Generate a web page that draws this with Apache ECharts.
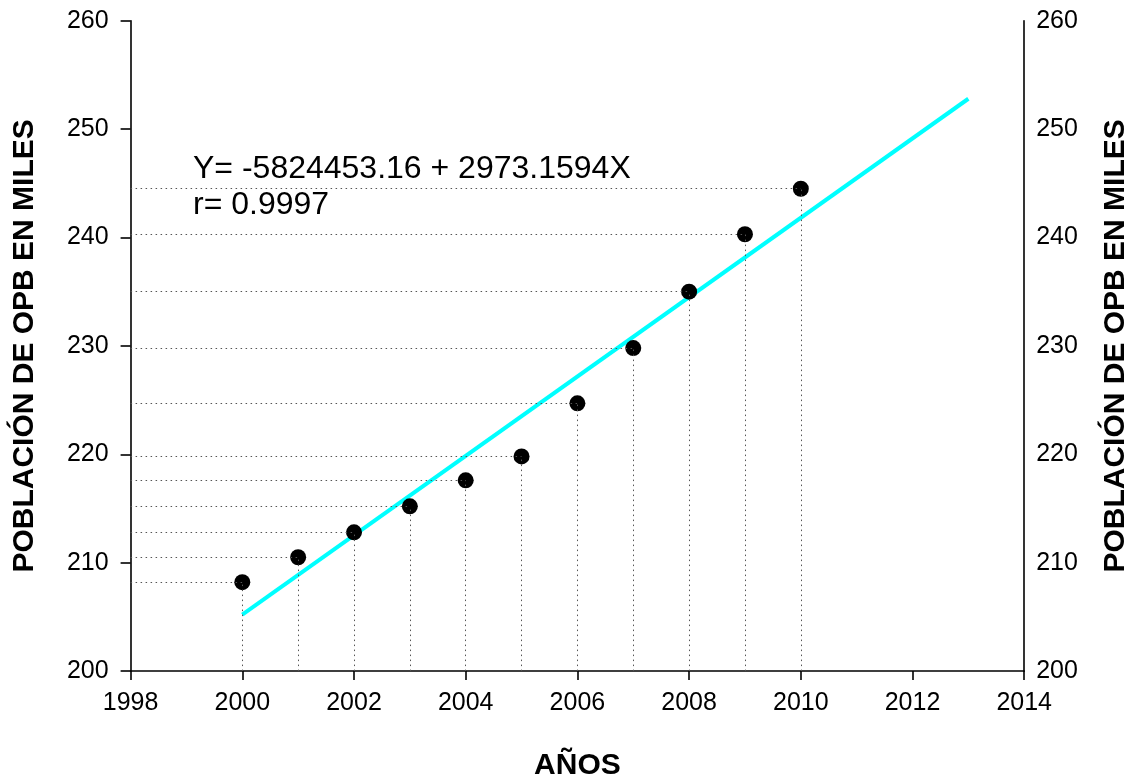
<!DOCTYPE html>
<html>
<head>
<meta charset="utf-8">
<title>Población de OPB en miles</title>
<script src="https://cdn.jsdelivr.net/npm/echarts@6/dist/echarts.min.js"></script>
<style>
  html, body { margin: 0; padding: 0; background: #ffffff; }
  #chart { width: 1135px; height: 776px; }
</style>
</head>
<body>
<div id="chart"></div>
<script>
// Observed population (thousands) per year
const years = [2000, 2001, 2002, 2003, 2004, 2005, 2006, 2007, 2008, 2009, 2010];
const population = [208.2, 210.5, 212.8, 215.2, 217.6, 219.8, 224.7, 229.8, 235.0, 240.3, 244.5];

// Fitted trend line, drawn between its two end years
const trendYears = [2000, 2013];
const trendValues = [205.2, 252.8];

// Axis ranges and tick steps
const xRange = [1998, 2014];
const xStep = 2;
const yRange = [200, 260];
const yStep = 10;

const equationText = 'Y= -5824453.16 + 2973.1594X';
const rText = 'r= 0.9997';
const xTitle = 'AÑOS';
const yTitle = 'POBLACIÓN DE OPB EN MILES';

const FONT = '"Liberation Sans", Arial, sans-serif';

const points = years.map((y, i) => [y, population[i]]);
const trend = trendYears.map((y, i) => [y, trendValues[i]]);

// Dotted guide lines: from each point down to the x axis and across to the y axis
const guides = [];
points.forEach(([x, v]) => {
  guides.push([{ coord: [x, yRange[0]] }, { coord: [x, v] }]);
  guides.push([{ coord: [xRange[0], v] }, { coord: [x, v] }]);
});

const chart = echarts.init(document.getElementById('chart'), null, { renderer: 'canvas' });

const labelStyle = { color: '#000', fontFamily: FONT, fontSize: 25 };
const titleStyle = { color: '#000', fontFamily: FONT, fontSize: 30, fontWeight: 'bold' };
const plain = v => String(v);

chart.setOption({
  animation: false,
  backgroundColor: '#ffffff',
  grid: {
    left: 130.6, right: 110.8, top: 20.7, bottom: 104.9,
    containLabel: false,
    outerBoundsMode: 'none'
  },
  xAxis: {
    type: 'value',
    min: xRange[0], max: xRange[1], interval: xStep,
    name: xTitle,
    nameLocation: 'middle',
    nameGap: 80,
    nameTextStyle: titleStyle,
    axisLine: { show: true, lineStyle: { color: '#000', width: 1.6 } },
    axisTick: { show: true, inside: false, length: 9, lineStyle: { color: '#000', width: 1.6 } },
    axisLabel: Object.assign({ margin: 20, formatter: plain }, labelStyle),
    splitLine: { show: false }
  },
  yAxis: [
    {
      type: 'value',
      position: 'left',
      min: yRange[0], max: yRange[1], interval: yStep,
      name: yTitle,
      nameLocation: 'middle',
      nameRotate: 90,
      nameGap: 91,
      nameTextStyle: titleStyle,
      axisLine: { show: true, lineStyle: { color: '#000', width: 1.6 } },
      axisTick: { show: true, inside: false, length: 10, lineStyle: { color: '#000', width: 1.6 } },
      axisLabel: Object.assign({ margin: 22, formatter: plain }, labelStyle),
      splitLine: { show: false }
    },
    {
      type: 'value',
      position: 'right',
      min: yRange[0], max: yRange[1], interval: yStep,
      name: yTitle,
      nameLocation: 'middle',
      nameRotate: 90,
      nameGap: 77,
      nameTextStyle: titleStyle,
      axisLine: { show: true, lineStyle: { color: '#000', width: 1.6 } },
      axisTick: { show: false },
      axisLabel: Object.assign({ margin: 12, formatter: plain }, labelStyle),
      splitLine: { show: false }
    }
  ],
  series: [
    {
      name: 'guides',
      type: 'scatter',
      data: [],
      silent: true,
      z: 1,
      markLine: {
        silent: true,
        symbol: ['none', 'none'],
        label: { show: false },
        lineStyle: { color: '#555', width: 1, type: [1.5, 3.5] },
        emphasis: { disabled: true },
        data: guides
      }
    },
    {
      name: 'trend',
      type: 'line',
      data: trend,
      showSymbol: false,
      symbol: 'none',
      silent: true,
      z: 3,
      lineStyle: { color: '#00ffff', width: 4, cap: 'butt' }
    },
    {
      name: 'population',
      type: 'scatter',
      data: points,
      symbol: 'circle',
      symbolSize: 16,
      z: 4,
      itemStyle: { color: '#000000', opacity: 1 }
    }
  ],
  graphic: [
    {
      type: 'text',
      left: 193,
      top: 151,
      z: 10,
      style: {
        text: equationText + '\n' + rText,
        fill: '#000',
        font: '32px ' + FONT,
        lineHeight: 36
      }
    }
  ]
});
</script>
</body>
</html>
